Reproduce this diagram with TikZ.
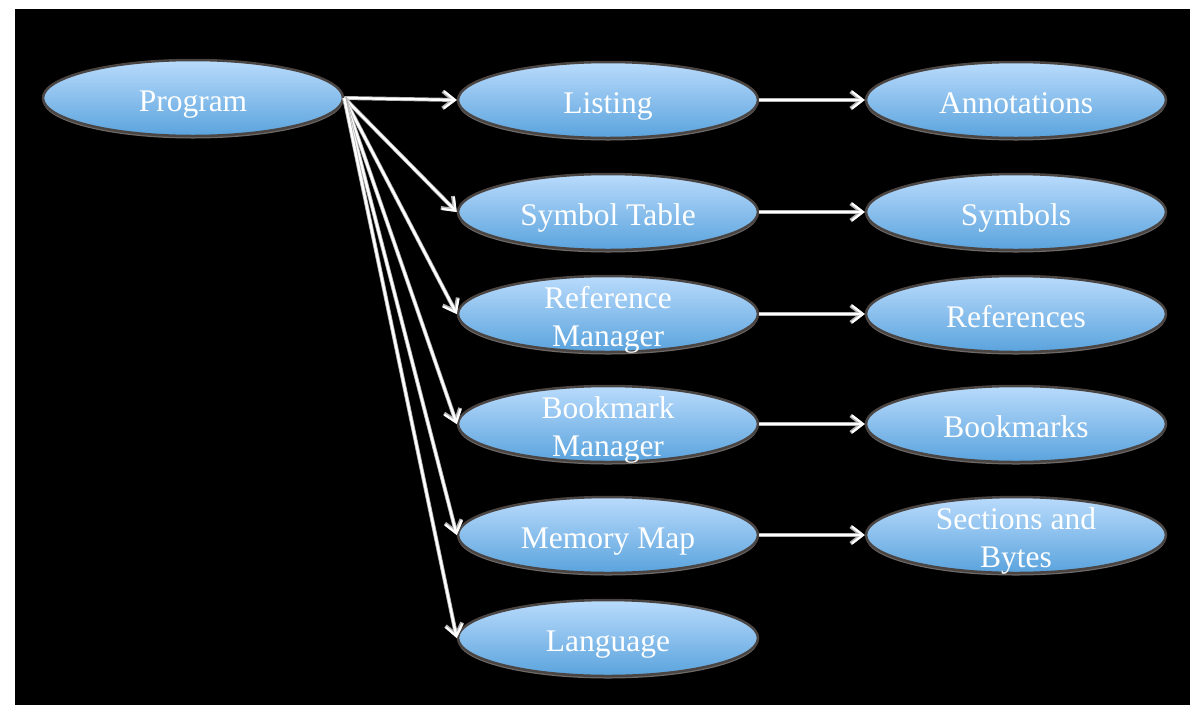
\documentclass[tikz,border=0pt]{standalone}
\usepackage{fontspec}
\setmainfont{Liberation Serif}
\usetikzlibrary{shapes.geometric,arrows.meta}
\definecolor{boxtop}{HTML}{B9DBFC}
\definecolor{boxbot}{HTML}{5AA3DD}
\definecolor{rimcol}{HTML}{4A4542}
\newcommand\lbl[1]{\raisebox{-12pt}[0pt][0pt]{\begin{tabular}{@{}c@{}}#1\end{tabular}}}
\tikzset{
  bubble/.style={ellipse, minimum width=300pt, minimum height=76pt, inner sep=0pt,
    top color=boxtop, bottom color=boxbot, draw=rimcol, line width=2.5pt,
    preaction={fill=rimcol!80, transform canvas={yshift=-2.5pt}},
    text=white, align=center, font=\fontsize{31.5}{38}\selectfont},
  link/.style={white, line width=2.4pt, -{Straight Barb[length=11pt,width=17pt,line width=2.2pt]},
    preaction={draw=gray!60, line width=4pt, -{Straight Barb[length=11pt,width=17pt,line width=3.8pt]}}}
}
\begin{document}
\begin{tikzpicture}[x=1pt,y=-1pt]
\useasboundingbox (0,0) rectangle (1190,705);
\fill[white] (0,0) rectangle (1190,705);
\fill[black] (15,9) rectangle (1190,705);
\node[bubble] (prog) at (193,98) {\lbl{Program}};
\node[bubble] (list) at (608,100) {\lbl{Listing}};
\node[bubble] (symt) at (608,212) {\lbl{Symbol Table}};
\node[bubble] (refm) at (608,314) {\lbl{Reference\\Manager}};
\node[bubble] (bkm) at (608,424) {\lbl{Bookmark\\Manager}};
\node[bubble] (mem) at (608,535) {\lbl{Memory Map}};
\node[bubble] (lang) at (608,638) {\lbl{Language}};
\node[bubble] (ann) at (1016,100) {\lbl{Annotations}};
\node[bubble] (sym) at (1016,212) {\lbl{Symbols}};
\node[bubble] (refs) at (1016,314) {\lbl{References}};
\node[bubble] (bks) at (1016,424) {\lbl{Bookmarks}};
\node[bubble] (secb) at (1016,535) {\lbl{Sections and\\Bytes}};
\foreach \t in {list,symt,refm,bkm,mem,lang}
  \draw[link] (prog.east) -- (\t.west);
\draw[link] (list.east) -- (ann.west);
\draw[link] (symt.east) -- (sym.west);
\draw[link] (refm.east) -- (refs.west);
\draw[link] (bkm.east) -- (bks.west);
\draw[link] (mem.east) -- (secb.west);
\end{tikzpicture}
\end{document}
